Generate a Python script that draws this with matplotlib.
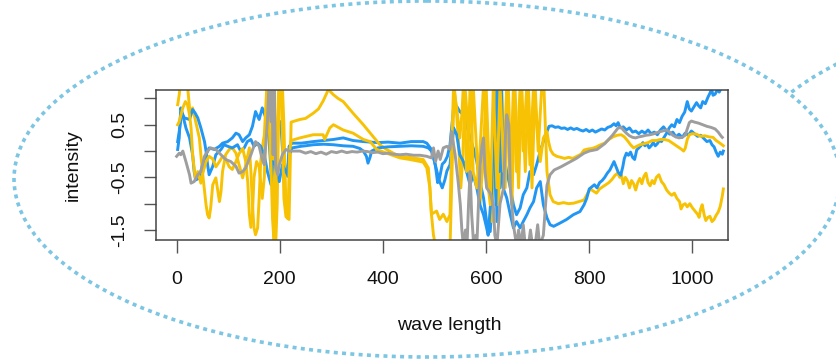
import matplotlib
matplotlib.use("Agg")
import matplotlib.pyplot as plt
from matplotlib.patches import Ellipse, Rectangle

plt.rcParams['font.family'] = ['Liberation Sans', 'DejaVu Sans']

# ---------------- data ----------------
gray_x = [0, 5, 8, 12, 18, 25, 28, 34, 41, 47, 54, 60, 66, 76, 86, 95, 105, 115, 121, 128, 134, 144, 153, 160, 166, 170,
          176, 179, 183, 185, 187, 189, 192, 196, 199, 205, 212, 218, 239, 250, 260, 270, 280, 290, 300, 310, 320, 330,
          340, 350, 360, 370, 380, 390, 400, 410, 420, 433, 445, 460, 472,
          485, 494, 498, 502, 507, 511, 517, 524, 530, 533, 540, 546, 550, 553, 556, 560, 563, 566, 569, 572, 576, 580,
          582, 588, 592, 595, 598, 601, 608, 614, 617, 621, 627, 634, 638, 640, 644, 647, 653, 659, 663, 668, 672, 676,
          682, 686, 690, 695, 700, 704, 711, 718, 724, 732, 745, 760, 775, 790, 800, 815, 830, 845, 856, 862, 866, 872,
          878, 884, 890, 896, 902, 910, 918, 926, 934, 942, 950, 956, 962, 968, 974, 980, 986, 990, 994, 998, 1004, 1012,
          1020, 1028, 1036, 1044, 1050, 1056, 1058]
gray_y = [-0.10, -0.04, -0.07, 0.0, -0.2, -0.45, -0.61, -0.58, -0.45, -0.39, -0.10, 0.0, 0.06, 0.03, -0.07, -0.16, -0.2,
          -0.29, -0.42, -0.39, -0.32, -0.07, 0.18, 0.09, -0.16, -0.26, 0.56, 1.25, 0.56, 1.2, -0.07, 1.25, -0.3, -0.45,
          -0.26, -0.07, 0.03, 0.0, 0.0, -0.04, -0.01, -0.05, -0.02, -0.06, -0.01, -0.03, 0.0, -0.03, -0.01, -0.02, 0.0,
          -0.01, -0.03, -0.02, -0.05, -0.04, -0.06, -0.07, -0.06, -0.08, -0.08,
          -0.1, -0.13, 0.06, -0.2, 0.0, -0.16, 0.06, 0.09, 0.03, 0.37, -0.07, -0.6, -1.02, -1.5, -1.8, -1.5, -1.8, -1.0,
          -0.39, -1.2, -1.8, -1.6, -1.8, -0.32, 0.1, 0.25, -0.4, -0.7, -0.8, -1.02, -1.6, -1.8, -1.0, -0.7, 0.4, 0.69,
          0.5, -0.7, -1.4, -1.8, -1.5, -1.8, -1.4, -1.8, -1.8, -1.5, -1.8, -1.8, -1.4, -1.8, -1.6, -0.65, -0.45, -0.36,
          -0.3, -0.22, -0.14, -0.04, 0.0, 0.03, 0.14, 0.3, 0.44, 0.45, 0.4, 0.34, 0.29, 0.26, 0.25, 0.27, 0.28, 0.3,
          0.31, 0.33, 0.36, 0.38, 0.4, 0.36, 0.3, 0.27, 0.25, 0.26, 0.3, 0.42, 0.54, 0.57, 0.55, 0.53, 0.5, 0.47, 0.45,
          0.42, 0.36, 0.28, 0.26]

blue1_x = [2, 5, 8, 12, 15, 18, 25, 31, 34, 37, 44, 50, 57, 63, 73, 83, 89, 99, 108, 115, 121, 128, 134, 141, 147, 153,
           160, 166, 173, 179, 183, 186, 189, 195, 202, 205, 212, 215, 218, 224, 241, 250, 265, 285, 304, 323, 342, 362,
           390, 410, 433, 455, 478, 485, 494, 498, 502, 506, 510, 515, 520, 525, 530, 537, 543, 549, 556, 562, 569, 575,
           582, 588, 595, 601, 608, 614, 617, 621, 624, 627, 634, 640, 647, 653, 659, 666, 672, 679, 685, 692, 698, 705,
           711, 718, 722, 728, 734, 740, 746, 752, 758, 764, 770, 776, 782, 788, 794, 800, 806, 812, 818, 824, 830, 836,
           842, 848, 852, 856, 860, 866, 872, 878, 884, 890, 896, 902, 908, 914, 920, 926, 932, 938, 944, 950, 956, 962,
           968, 974, 980, 986, 992, 998, 1004, 1010, 1016, 1022, 1028, 1034, 1038, 1042, 1046, 1050, 1054, 1058, 1060]
blue1_y = [0.03, 0.25, 0.82, 0.69, 0.56, 0.44, 0.25, -0.07, -0.39, -0.55, -0.51, -0.26, -0.07, 0.06, 0.03, 0.09, 0.15,
           0.18, 0.25, 0.34, 0.31, 0.18, 0.25, 0.31, 0.47, 0.75, 0.6, 0.82, 0.63, 0.25, -0.39, -0.7, 0.06, 0.44, 0.56,
           0.06, -0.42, -0.48, 0.09, 0.15, 0.15, 0.16, 0.18, 0.2, 0.22, 0.25, 0.2, 0.18, 0.16, 0.17, 0.15, 0.18, 0.18,
           0.15, 0.03, -0.1, -0.3, -0.6, -0.5, -0.25, -0.2, -0.1, 0.12, 0.82, 0.85, 0.75, 0.69, 0.5, 0.25, 0.06, -0.2,
           -0.58, -0.89, -1.34, -1.53, -0.7, 1.14, -1.34, 1.14, -0.7, -0.07, -0.39, -0.7, -1.02, -1.21, -1.08, -0.83,
           -0.7, -0.39, -0.45, -0.26, 0.0, 0.18, 0.37, 0.47, 0.48, 0.45, 0.46, 0.43, 0.44, 0.41, 0.44, 0.41, 0.43, 0.4,
           0.38, 0.41, 0.37, 0.4, 0.36, 0.39, 0.42, 0.4, 0.45, 0.47, 0.52, 0.48, 0.54, 0.44, 0.46, 0.4, 0.44, 0.36, 0.38,
           0.33, 0.38, 0.34, 0.4, 0.33, 0.36, 0.31, 0.4, 0.46, 0.38, 0.32, 0.36, 0.27, 0.32, 0.26, 0.34, 0.3, 0.38, 0.33,
           0.28, 0.3, 0.24, 0.18, 0.2, 0.12, 0.08, -0.02, -0.1, -0.02, -0.06, 0.0]

blue2_x = [2, 5, 10, 15, 25, 31, 36, 41, 47, 54, 57, 60, 63, 70, 76, 86, 92, 99, 108, 118, 124, 131, 137, 144, 150, 157,
           163, 170, 176, 183, 186, 192, 199, 205, 215, 218, 224, 241, 250, 265, 285, 304, 323, 342, 355, 362, 368, 371,
           375, 378, 390, 410, 433, 455, 478, 488, 494, 500, 505, 510, 515, 520, 524, 530, 537, 543, 549, 556, 562, 569,
           575, 582, 588, 595, 601, 604, 611, 615, 619, 622, 626, 630, 633, 640, 647, 653, 659, 666, 672, 679, 685, 692,
           698, 705, 711, 718, 724, 731, 743, 756, 769, 782, 790, 795, 800, 805, 810, 815, 820, 825, 830, 835, 840, 845,
           848, 852, 856, 861, 865, 868, 872, 876, 880, 884, 888, 892, 896, 900, 904, 908, 912, 916, 920, 924, 928, 932,
           936, 940, 945, 950, 955, 960, 965, 970, 975, 980, 985, 990, 994, 998, 1003, 1008, 1012, 1016, 1020, 1025,
           1030, 1034, 1037, 1040, 1044, 1048, 1052, 1056, 1060]
blue2_y = [0.18, 0.37, 0.72, 0.63, 0.6, 0.79, 0.72, 0.63, 0.44, 0.18, 0.0, -0.26, -0.45, -0.29, -0.07, 0.03, 0.12, 0.09,
           0.06, 0.12, 0.0, 0.06, 0.18, 0.22, 0.09, 0.15, 0.09, -0.07, -0.39, -0.64, -0.2, -0.26, -0.58, -0.26, -0.45,
           -0.07, 0.06, 0.09, 0.1, 0.12, 0.13, 0.12, 0.1, 0.09, 0.05, 0.0, -0.1, -0.23, -0.12, 0.0, 0.06, 0.08, 0.09, 0.1,
           0.09, 0.06, 0.0, -0.2, -0.4, -0.58, -0.7, -0.55, -0.38, -0.26, 0.44, 0.31, -0.07, -0.2, -0.39, -0.64, -0.45,
           -0.7, -1.02, -1.21, -1.46, -1.6, -0.7, 1.17, -1.02, 1.17, -0.39, 1.17, -0.7, -0.89, -1.21, -1.46, -1.34, -1.46,
           -1.34, -1.21, -1.08, -0.96, -0.7, -0.58, -1.02, -1.27, -1.4, -1.43, -1.37, -1.3, -1.21, -1.15, -1.02, -0.9,
           -0.72, -0.68, -0.64, -0.7, -0.6, -0.56, -0.5, -0.42, -0.36, -0.26, -0.2, -0.3, -0.4, -0.46, -0.3, -0.14,
           -0.04, -0.08, -0.02, -0.12, -0.16, 0.02, 0.06, 0.1, 0.16, 0.1, 0.14, 0.06, 0.1, 0.16, 0.1, 0.14, 0.2, 0.18,
           0.26, 0.34, 0.44, 0.5, 0.46, 0.6, 0.54, 0.66, 0.74, 0.94, 0.8, 0.76, 0.84, 0.92, 0.86, 0.82, 0.94, 0.9, 1.02,
           1.1, 1.18, 1.06, 1.08, 1.16, 1.12, 1.2, 1.22]

yellowA_x = [2, 5, 7, 21, 25, 28, 31, 34, 37, 44, 50, 57, 60, 63, 66, 70, 76, 79, 83, 86, 89, 95, 102, 108, 115, 121, 128,
             134, 141, 144, 147, 150, 153, 157, 160, 163, 166, 170, 175, 182, 186, 189, 192, 195, 198, 200, 205, 208,
             211, 214, 218, 222, 239, 250, 265, 275, 284, 291, 294, 304, 313, 323, 342, 362, 378, 394, 407, 420, 433,
             452, 478, 488, 491, 494, 498, 502, 506, 511, 517, 524, 530, 535, 538, 542, 546, 551, 555, 559, 564, 568,
             572, 575, 582, 588, 595, 600, 606, 611, 617, 624, 630, 637, 643, 650, 656, 663, 669, 676, 682, 689, 695,
             701, 708, 712, 718, 724, 730, 740, 750, 760, 770, 780, 790, 796, 802, 808, 814, 820, 826, 832, 838, 844,
             850, 855, 859, 862, 866, 870, 874, 878, 882, 886, 890, 894, 898, 902, 906, 910, 914, 918, 922, 926, 930,
             935, 940, 945, 950, 955, 960, 965, 970, 975, 978, 982, 986, 990, 995, 1000, 1005, 1010, 1013, 1016, 1019,
             1023, 1026, 1030, 1034, 1038, 1042, 1046, 1050, 1054, 1058, 1060]
yellowA_y = [0.88, 1.07, 1.25, 1.25, 0.82, 0.72, 0.82, 0.69, 0.56, 0.25, -0.39, -1.02, -1.21, -1.27, -1.08, -0.64, -0.51,
             -0.7, -0.96, -0.77, -0.39, -0.07, 0.03, 0.06, -0.04, -0.26, -0.51, -0.26, 0.06, -0.39, -1.02, -1.46, -1.59,
             -1.46, -0.9, -0.2, 0.06, 0.3, 1.25, 1.25, 0.0, -1.0, -1.8, -1.0, 0.8, 1.25, 1.25, 0.5, -0.7, -1.27, -1.3,
             0.55, 0.6, 0.62, 0.72, 0.8, 0.95, 1.1, 1.17, 1.07, 1.0, 0.94, 0.72, 0.5, 0.31, 0.12, 0.03, -0.04, -0.1,
             -0.12, -0.16, -0.32, -0.7, -1.2, -1.6, -1.8, -1.75, -1.8, -1.85, -1.9, -1.85, 0.0, 1.25, 0.82, 0.25, -0.7,
             -0.07, 1.25, 0.56, -0.7, 0.25, 1.25, -0.07, -1.02, -0.07, 1.25, -0.39, -1.34, 1.25, -1.02, 1.25, -0.7, 1.25,
             -1.02, 1.25, -0.7, 1.25, -0.39, 1.25, -0.7, 1.25, 0.0, 1.25, 1.25, -0.39, -0.83, -0.96, -1.0, -0.98, -1.0,
             -0.99, -0.96, -0.93, -0.82, -0.72, -0.76, -0.8, -0.72, -0.68, -0.64, -0.6, -0.54, -0.46, -0.42, -0.5, -0.44,
             -0.62, -0.5, -0.56, -0.7, -0.56, -0.62, -0.74, -0.6, -0.52, -0.62, -0.48, -0.42, -0.6, -0.66, -0.56, -0.62,
             -0.5, -0.45, -0.58, -0.64, -0.74, -0.8, -0.84, -0.8, -0.9, -0.96, -1.1, -1.02, -1.0, -1.06, -1.0, -1.08,
             -1.14, -1.2, -1.26, -1.1, -1.02, -1.22, -1.32, -1.26, -1.24, -1.34, -1.3, -1.22, -1.16, -1.05, -0.85, -0.72]

yellowB_x = [2, 5, 12, 17, 21, 25, 28, 31, 36, 41, 47, 50, 57, 63, 70, 76, 83, 89, 95, 102, 108, 115, 121, 128, 134, 138,
             141, 144, 147, 150, 155, 160, 166, 170, 173, 176, 179, 183, 186, 189, 192, 195, 198, 202, 205, 208, 212,
             216, 219, 222, 239, 265, 284, 287, 297, 304, 323, 342, 362, 375, 388, 407, 433, 452, 478, 485, 491, 494,
             504, 510, 517, 524, 530, 533, 537, 540, 543, 546, 549, 553, 556, 559, 562, 566, 569, 572, 575, 582, 588,
             595, 598, 601, 608, 614, 621, 627, 634, 640, 647, 653, 659, 666, 672, 679, 685, 692, 698, 705, 711, 718,
             721, 725, 730, 737, 745, 752, 760, 768, 776, 784, 790, 798, 806, 814, 822, 830, 838, 846, 854, 862, 868,
             874, 880, 886, 892, 898, 906, 914, 922, 930, 938, 946, 954, 960, 966, 972, 978, 983, 986, 990, 994, 1000,
             1008, 1016, 1024, 1032, 1040, 1046, 1052, 1060]
yellowB_y = [0.5, 0.56, 0.82, 0.94, 0.88, 0.69, 0.44, -0.07, -0.51, -0.39, -0.61, -0.45, -0.2, -0.1, -0.15, -0.3, -0.2,
             -0.1, -0.15, -0.3, -0.35, -0.2, -0.05, 0.05, -0.2, -0.6, -1.2, -1.45, -1.2, -0.5, -0.2, -0.3, -0.9, -0.5,
             0.5, 1.25, 0.6, -0.3, -1.3, -1.75, -0.8, 0.4, 1.25, 1.25, 0.3, -0.9, -1.25, -1.2, 0.0, 0.2, 0.25, 0.31,
             0.31, 0.22, 0.44, 0.5, 0.4, 0.34, 0.22, 0.18, 0.03, -0.04, -0.13, -0.16, -0.21, -0.32, -0.7, -1.2, -1.14,
             -1.3, -1.2, -1.34, -1.21, 0.0, 1.25, 1.0, 0.82, 0.56, 0.25, 0.69, 1.25, 0.56, -0.39, 0.25, 1.25, 0.56, -0.39,
             -0.7, 0.0, 1.25, 0.9, -0.39, -1.02, 1.25, -0.7, 1.25, -0.39, 1.25, -0.7, 1.25, -0.39, 1.25, 0.0, 1.25, -0.26,
             1.25, 0.56, -0.2, 0.25, 0.37, 0.18, 0.02, -0.06, -0.1, -0.12, -0.14, -0.12, -0.14, -0.1, -0.06, 0.02, 0.04,
             0.05, 0.08, 0.12, 0.15, 0.22, 0.27, 0.3, 0.31, 0.27, 0.2, 0.12, 0.06, 0.09, 0.12, 0.14, 0.16, 0.2, 0.2, 0.22,
             0.22, 0.2, 0.16, 0.12, 0.08, 0.04, 0.0, 0.05, 0.22, 0.31, 0.33, 0.32, 0.28, 0.29, 0.27, 0.26, 0.2, 0.16, 0.1]

x_ticks = [0, 200, 400, 600, 800, 1000]
y_ticks = [-1.5, -1.0, -0.5, 0.0, 0.5, 1.0]
y_tick_labels = ['-1.5', '', '-0.5', '', '0.5', '']

BLUE = '#2196F3'
YELLOW = '#F7C204'
GRAY = '#9E9E9E'
DOT = '#7CC5E3'

# ---------------- figure ----------------
W, H = 836, 361
fig = plt.figure(figsize=(W / 100, H / 100), dpi=100)

bg = fig.add_axes([0, 0, 1, 1], zorder=0)
bg.set_xlim(0, W)
bg.set_ylim(H, 0)
bg.axis('off')
dot_style = dict(fill=False, ec=DOT, lw=2.6, ls=(0, (1.1, 1.2)), capstyle='butt')
bg.add_patch(Ellipse((427, 179), 826, 356, **dot_style))
second = Ellipse((1152, 179), 826, 356, **dot_style)
bg.add_patch(second)
clip_box = Rectangle((780, -5), 70, 98, transform=bg.transData, visible=False)
bg.add_patch(clip_box)
second.set_clip_path(clip_box)

ax = fig.add_axes([156 / W, 1 - 240 / H, 572 / W, 150 / H], zorder=1)
ax.set_facecolor('white')

series = [
    (blue1_x, blue1_y, BLUE),
    (yellowA_x, yellowA_y, YELLOW),
    (blue2_x, blue2_y, BLUE),
    (yellowB_x, yellowB_y, YELLOW),
    (gray_x, gray_y, GRAY),
]
for xs, ys, c in series:
    ax.plot(xs, ys, color=c, lw=2.1, solid_joinstyle='round')

ax.set_xlim(-40, 1069)
ax.set_ylim(-1.69, 1.16)

for s in ax.spines.values():
    s.set_color('#444444')
    s.set_linewidth(1.1)

ax.set_xticks(x_ticks)
ax.set_xticklabels([str(v) for v in x_ticks])
ax.set_yticks(y_ticks)
ax.set_yticklabels(y_tick_labels, rotation=90, va='center')
ax.tick_params(axis='both', direction='out', length=9, width=1.0, color='#555555',
               labelsize=14, labelcolor='#111111')
ax.tick_params(axis='x', pad=13)
ax.tick_params(axis='y', pad=11)

ax.set_xlabel('wave length', fontsize=14, color='#111111')
ax.set_ylabel('intensity', fontsize=14, color='#111111')
ax.xaxis.set_label_coords((449 - 156) / 572, 1 - (325 - 90) / 150)
ax.yaxis.set_label_coords((73 - 156) / 572, 0.5)
ax.xaxis.label.set_va('center')
ax.yaxis.label.set_va('center')

fig.savefig('out.png', dpi=100)
